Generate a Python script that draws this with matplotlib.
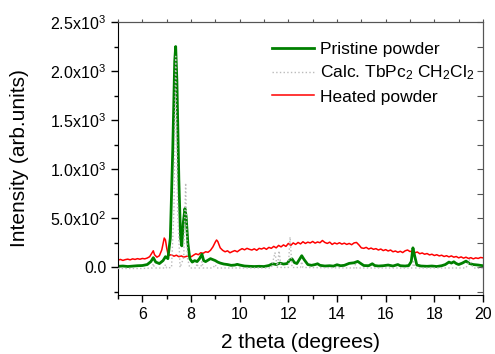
import matplotlib
matplotlib.use('Agg')
import matplotlib.pyplot as plt
from matplotlib.ticker import MultipleLocator, FixedLocator, FixedFormatter

plt.rcParams['font.family'] = ['Liberation Sans', 'DejaVu Sans']
plt.rcParams['mathtext.fontset'] = 'custom'
plt.rcParams['mathtext.rm'] = 'Liberation Sans'
plt.rcParams['mathtext.it'] = 'Liberation Sans'

# Pristine powder (green)
pristine_x = [5.0, 5.2, 5.4, 5.6, 5.8, 6.0, 6.2, 6.35, 6.45, 6.55, 6.7, 6.85, 6.95, 7.05,
              7.15, 7.25, 7.33, 7.37, 7.42, 7.5, 7.57, 7.62, 7.68, 7.75, 7.8, 7.87, 7.95,
              8.05, 8.15, 8.25, 8.35, 8.45, 8.52, 8.6, 8.7, 8.8, 8.9, 9.0, 9.1, 9.2, 9.35,
              9.5, 9.65, 9.8, 9.9, 10.0, 10.2, 10.4, 10.6, 10.8, 11.0, 11.2, 11.35, 11.5,
              11.65, 11.8, 11.95, 12.05, 12.15, 12.25, 12.35, 12.45, 12.55, 12.65, 12.8,
              12.95, 13.1, 13.2, 13.3, 13.5, 13.7, 13.85, 14.0, 14.15, 14.3, 14.5, 14.7,
              14.85, 14.95, 15.1, 15.3, 15.45, 15.55, 15.7, 15.9, 16.1, 16.3, 16.5, 16.6,
              16.8, 16.95, 17.05, 17.12, 17.18, 17.28, 17.45, 17.7, 17.9, 18.1, 18.3,
              18.45, 18.6, 18.7, 18.8, 18.9, 19.0, 19.15, 19.3, 19.45, 19.6, 19.8, 20.0]
pristine_y = [12, 15, 10, 14, 18, 20, 30, 60, 100, 55, 40, 70, 110, 90,
              300, 1200, 2100, 2250, 1900, 900, 300, 220, 450, 600, 520, 250, 90,
              55, 70, 60, 90, 135, 70, 60, 75, 90, 80, 70, 55, 45, 35,
              30, 22, 25, 32, 25, 15, 12, 10, 12, 10, 20, 38, 30,
              45, 35, 40, 75, 88, 50, 40, 80, 120, 80, 30,
              22, 30, 38, 22, 15, 18, 14, 28, 18, 22, 42, 48,
              62, 45, 20, 18, 38, 20, 15, 18, 25, 15, 30, 18,
              15, 20, 60, 200, 130, 25, 15, 12, 15, 10, 18,
              30, 55, 45, 58, 40, 30, 45, 65, 40, 30, 25, 18]

# Calculated TbPc2 CH2Cl2 pattern (grey dotted)
calc_x = [5.0, 6.0, 6.4, 6.45, 6.5, 6.9, 6.95, 7.0, 7.2, 7.3, 7.37, 7.45, 7.55, 7.7,
          7.78, 7.85, 7.95, 8.2, 8.25, 8.3, 8.4, 8.45, 8.5, 8.9, 9.0, 9.05, 11.3,
          11.45, 11.55, 11.62, 11.7, 12.0, 12.07, 12.15, 12.5, 12.55, 12.6, 14.7,
          14.75, 14.8, 17.1, 17.15, 17.2, 19.3, 19.45, 19.6, 20.0]
calc_y = [-10, -10, -5, 40, -5, -5, 30, -5, 0, 600, 2150, 600, 0, 100,
          860, 100, -5, -5, 40, -5, -5, 60, -5, -5, 30, -5, -5,
          150, 0, 170, 0, 0, 310, 0, 0, 60, 0, -5,
          30, -5, -5, 60, -5, -5, 80, -5, -10]

# Heated powder (red)
heated_x = [5.0, 5.1, 5.2, 5.3, 5.4, 5.5, 5.6, 5.7, 5.8, 5.9, 6.0, 6.1, 6.2, 6.3, 6.4,
            6.45, 6.5, 6.6, 6.7, 6.8, 6.9, 6.95, 7.0, 7.05, 7.1, 7.2, 7.3, 7.4, 7.5,
            7.6, 7.7, 7.8, 7.9, 8.0, 8.1, 8.2, 8.3, 8.4, 8.5, 8.6, 8.7, 8.8, 8.9, 9.0,
            9.05, 9.1, 9.2, 9.3, 9.4, 9.5, 9.6, 9.7, 9.8, 9.9, 10.0, 10.1, 10.2, 10.3,
            10.4, 10.5, 10.6, 10.7, 10.8, 10.9, 11.0, 11.1, 11.2, 11.3, 11.4, 11.5,
            11.6, 11.7, 11.8, 11.9, 12.0, 12.1, 12.2, 12.3, 12.4, 12.5, 12.6, 12.7,
            12.8, 12.9, 13.0, 13.1, 13.2, 13.3, 13.4, 13.5, 13.6, 13.7, 13.8, 13.9,
            14.0, 14.1, 14.2, 14.3, 14.4, 14.5, 14.6, 14.7, 14.8, 14.9, 15.0, 15.1,
            15.2, 15.3, 15.4, 15.5, 15.6, 15.7, 15.8, 15.9, 16.0, 16.1, 16.2, 16.3,
            16.4, 16.5, 16.6, 16.7, 16.8, 16.9, 17.0, 17.1, 17.2, 17.3, 17.4, 17.5,
            17.6, 17.7, 17.8, 17.9, 18.0, 18.1, 18.2, 18.3, 18.4, 18.5, 18.6, 18.7,
            18.8, 18.9, 19.0, 19.1, 19.2, 19.3, 19.4, 19.5, 19.6, 19.7, 19.8, 19.9, 20.0]
heated_y = [75, 82, 72, 80, 85, 78, 88, 82, 90, 84, 92, 88, 96, 110, 150,
            170, 130, 105, 120, 180, 300, 280, 200, 140, 125, 130, 115, 125, 110,
            118, 105, 112, 120, 108, 125, 140, 130, 150, 145, 160, 155, 175, 210, 260,
            280, 265, 200, 175, 160, 170, 150, 162, 172, 160, 178, 192, 180, 195,
            185, 178, 190, 175, 195, 188, 200, 185, 205, 195, 215, 200,
            225, 210, 230, 215, 245, 225, 250, 235, 255, 240, 262, 245,
            258, 250, 265, 248, 260, 252, 275, 255, 245, 258, 235, 250,
            240, 252, 238, 248, 235, 245, 232, 250, 255, 230, 200, 195,
            205, 188, 198, 185, 192, 178, 188, 172, 182, 168, 178, 160,
            168, 155, 165, 152, 170, 178, 162, 170, 150, 158, 140, 148,
            135, 142, 128, 135, 122, 130, 118, 125, 112, 120, 108, 118,
            105, 112, 98, 108, 95, 105, 92, 100, 88, 98, 92, 102, 98]

ytick_vals = [0, 500, 1000, 1500, 2000, 2500]
ytick_labels = ['0.0', r'5.0x10$^2$', r'1.0x10$^3$', r'1.5x10$^3$', r'2.0x10$^3$', r'2.5x10$^3$']

fig = plt.figure(figsize=(4.95, 3.54), dpi=100)
ax = fig.add_axes([0.2384, 0.1667, 0.7374, 0.7712])

h_red, = ax.plot(heated_x, heated_y, color='#ff0000', lw=1.1, zorder=1, label='Heated powder')
h_green, = ax.plot(pristine_x, pristine_y, color='#008000', lw=2.0, zorder=2, label='Pristine powder')
h_calc, = ax.plot(calc_x, calc_y, color='#bbbbbb', lw=1.0, ls=':', zorder=3,
                  label=r'Calc. TbPc$_2$ CH$_2$Cl$_2$')

ax.set_xlim(5, 20)
ax.set_ylim(-280, 2500)
ax.xaxis.set_major_locator(MultipleLocator(2))
ax.xaxis.set_minor_locator(MultipleLocator(1))
ax.yaxis.set_major_locator(FixedLocator(ytick_vals))
ax.yaxis.set_major_formatter(FixedFormatter(ytick_labels))
ax.yaxis.set_minor_locator(MultipleLocator(250))
ax.set_xticks([6, 8, 10, 12, 14, 16, 18, 20])

ax.tick_params(which='both', direction='out', labelsize=11.5, width=1)
ax.tick_params(which='major', length=5)
ax.tick_params(which='minor', length=3)
for s in ['top', 'right']:
    ax.spines[s].set_color('#555555')

# tick marks on top/right sides
top = ax.secondary_xaxis('top')
top.xaxis.set_major_locator(MultipleLocator(1))
top.tick_params(direction='out', length=2, labeltop=False, color='#555555')
top.spines['top'].set_color('#555555')
right = ax.secondary_yaxis('right')
right.yaxis.set_major_locator(MultipleLocator(250))
right.tick_params(direction='in', length=4, labelright=False, color='#555555')
right.spines['right'].set_color('#555555')

ax.set_xlabel('2 theta (degrees)', fontsize=15, labelpad=8)
ax.set_ylabel('Intensity (arb.units)', fontsize=15, labelpad=15)

ax.legend(handles=[h_green, h_calc, h_red], loc='upper left', fontsize=12.5,
          frameon=False, handlelength=2.4, handletextpad=0.35, labelspacing=0.4,
          borderpad=0, borderaxespad=0, bbox_to_anchor=(0.422, 0.928))

fig.savefig('out.png', dpi=100)
